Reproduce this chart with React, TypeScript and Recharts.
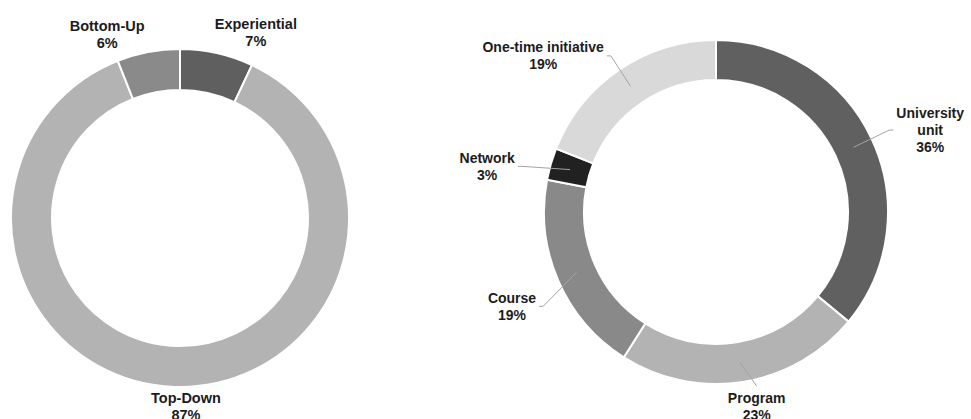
import React from "react";
import { PieChart, Pie, Cell } from "recharts";

// ---- data ----
const leftCategories = ["Experiential", "Top-Down", "Bottom-Up"];
const leftValues = [7, 87, 6];

const rightCategories = ["University unit", "Program", "Course", "Network", "One-time initiative"];
const rightValues = [36, 23, 19, 3, 19];

// ---- styles ----
const leftColors = ["#5f5f5f", "#b3b3b3", "#8a8a8a"];
const rightColors = ["#606060", "#b3b3b3", "#898989", "#212121", "#d9d9d9"];
const LINE_BREAKS: Record<string, string[]> = { "University unit": ["University", "unit"] };
const FONT = '"Liberation Sans", Arial, Helvetica, sans-serif';
const TEXT_COLOR = "#1c1c1c";
const LEADER_COLOR = "#a3a3a3";
const LINE_H = 17;

// label layout tweaks (relative offsets of the label box, px)
const LEFT_NUDGE: Record<string, [number, number]> = {
  Experiential: [-3, 0],
  "Top-Down": [18, -1.5],
  "Bottom-Up": [-3, 3],
};
const RIGHT_NUDGE: Record<string, [number, number]> = {
  "University unit": [3, 1.5],
  Program: [10, -16.5],
  Course: [0, 16.5],
  Network: [-13, 9],
  "One-time initiative": [-2, 6],
};

const leftData = leftCategories.map((name, i) => ({ name, value: leftValues[i] }));
const rightData = rightCategories.map((name, i) => ({ name, value: rightValues[i] }));

const RAD = Math.PI / 180;
const polar = (cx: number, cy: number, r: number, a: number): [number, number] => [
  cx + r * Math.cos(-a * RAD),
  cy + r * Math.sin(-a * RAD),
];
const clamp = (v: number) => Math.max(-1, Math.min(1, v));

let ctx: CanvasRenderingContext2D | null = null;
function textWidth(s: string, size: number): number {
  if (!ctx) ctx = document.createElement("canvas").getContext("2d");
  if (!ctx) return s.length * size * 0.55;
  ctx.font = `bold ${size}px ${FONT}`;
  return ctx.measureText(s).width;
}

function labelLines(name: string, value: number): string[] {
  return [...(LINE_BREAKS[name] || [name]), `${value}%`];
}

function TextBlock({ lines, cx, cy, size }: { lines: string[]; cx: number; cy: number; size: number }) {
  const n = lines.length;
  return (
    <text
      textAnchor="middle"
      fontFamily={FONT}
      fontWeight="bold"
      fontSize={size}
      fill={TEXT_COLOR}
    >
      {lines.map((l, i) => (
        <tspan key={i} x={cx} y={cy + (i - (n - 1) / 2) * LINE_H} dominantBaseline="central">
          {l}
        </tspan>
      ))}
    </text>
  );
}

function midAngleOf(p: any): number {
  if (typeof p.midAngle === "number") return p.midAngle;
  return (p.startAngle + p.endAngle) / 2;
}

const renderLeftLabel = (p: any) => {
  const size = 14.5;
  const name = p.name ?? p.payload?.name;
  const value = p.value ?? p.payload?.value;
  const lines = labelLines(name, value);
  const w = Math.max(...lines.map((l) => textWidth(l, size)));
  const h = lines.length * LINE_H;
  const a = midAngleOf(p);
  const [px, py] = polar(p.cx, p.cy, p.outerRadius + 4, a);
  const c = Math.cos(a * RAD);
  const s = Math.sin(a * RAD);
  const nd = LEFT_NUDGE[name] || [0, 0];
  const bx = px + clamp(c * 6) * (w / 2) + nd[0];
  const by = py - clamp(s * 6) * (h / 2) + nd[1];
  return (
    <g key={`ll-${p.index}`}>
      <TextBlock lines={lines} cx={bx} cy={by} size={size} />
    </g>
  );
};

const renderRightLabel = (p: any) => {
  const size = 14;
  const name = p.name ?? p.payload?.name;
  const value = p.value ?? p.payload?.value;
  const lines = labelLines(name, value);
  const w = Math.max(...lines.map((l) => textWidth(l, size)));
  const h = lines.length * LINE_H;
  const a = midAngleOf(p);
  const [px, py] = polar(p.cx, p.cy, p.outerRadius + 24, a);
  const c = Math.cos(a * RAD);
  const s = Math.sin(a * RAD);
  const nd = RIGHT_NUDGE[name] || [0, 0];
  const side = Math.abs(c) >= 0.5;
  const bx = px + (side ? Math.sign(c) * (w / 2) : 0) + nd[0];
  const by = py + (side ? 0 : -Math.sign(s) * (h / 2)) + nd[1];
  const [sx, sy] = polar(p.cx, p.cy, (p.innerRadius + p.outerRadius) / 2, a);
  let pts: string;
  if (side) {
    const edge = c > 0 ? bx - w / 2 - 3 : bx + w / 2 + 3;
    const stub = c > 0 ? edge - 4 : edge + 4;
    pts = `${sx},${sy} ${stub},${by} ${edge},${by}`;
  } else {
    const ey = s < 0 ? by - h / 2 - 3 : by + h / 2 + 3;
    pts = `${sx},${sy} ${bx},${ey}`;
  }
  return (
    <g key={`rl-${p.index}`}>
      <polyline points={pts} fill="none" stroke={LEADER_COLOR} strokeWidth={1} />
      <TextBlock lines={lines} cx={bx} cy={by} size={size} />
    </g>
  );
};

export default function App() {
  return (
    <div style={{ position: "absolute", left: 0, top: 0, width: 971, height: 419, background: "#fff" }}>
      <PieChart width={971} height={419} margin={{ top: 0, right: 0, bottom: 0, left: 0 }}>
        <Pie
          data={leftData}
          dataKey="value"
          nameKey="name"
          cx={180}
          cy={218}
          innerRadius={128}
          outerRadius={169}
          startAngle={90}
          endAngle={-270}
          stroke="#ffffff"
          strokeWidth={2}
          label={renderLeftLabel}
          labelLine={false}
          isAnimationActive={false}
        >
          {leftData.map((d, i) => (
            <Cell key={d.name} fill={leftColors[i]} />
          ))}
        </Pie>
        <Pie
          data={rightData}
          dataKey="value"
          nameKey="name"
          cx={716}
          cy={212}
          innerRadius={132}
          outerRadius={172}
          startAngle={90}
          endAngle={-270}
          stroke="#ffffff"
          strokeWidth={2}
          label={renderRightLabel}
          labelLine={false}
          isAnimationActive={false}
        >
          {rightData.map((d, i) => (
            <Cell key={d.name} fill={rightColors[i]} />
          ))}
        </Pie>
      </PieChart>
    </div>
  );
}
